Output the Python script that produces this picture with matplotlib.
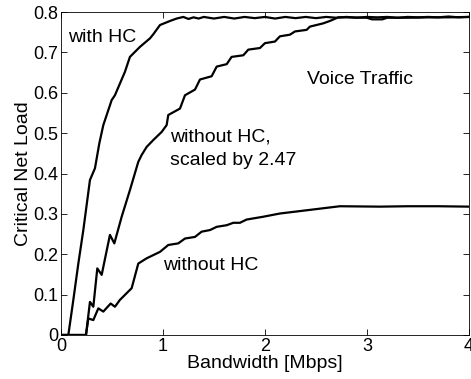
import numpy as np
import matplotlib
matplotlib.use('Agg')
import matplotlib.pyplot as plt

### DATA
### ------------------

# with header compression
x_hc = [0.0, 0.072, 0.121, 0.17, 0.219, 0.284, 0.333, 0.376, 0.415, 0.497, 0.529,
        0.627, 0.676, 0.775, 0.873, 0.905, 0.971, 1.069, 1.134, 1.2, 1.25,
        1.3, 1.35, 1.4, 1.5, 1.6, 1.7, 1.8, 1.9, 2.0, 2.1, 2.2, 2.3, 2.4, 2.5,
        2.6, 2.7, 2.8, 2.9, 3.0, 3.1, 3.2, 3.3, 3.4, 3.5, 3.6, 3.7, 3.8,
        3.9, 4.0]
y_hc = [0.0, 0.0, 0.087, 0.177, 0.26, 0.384, 0.413, 0.475, 0.52, 0.582, 0.594,
        0.652, 0.689, 0.714, 0.735, 0.745, 0.768, 0.778, 0.784, 0.788, 0.783,
        0.787, 0.784, 0.788, 0.784, 0.788, 0.784, 0.788, 0.785, 0.788, 0.784,
        0.788, 0.785, 0.788, 0.785, 0.788, 0.786, 0.788, 0.786, 0.788, 0.787,
        0.788, 0.786, 0.788, 0.787, 0.788, 0.787, 0.789, 0.787, 0.788]

# without header compression, scaled by 2.47
x_scaled = [0.0, 0.245, 0.284, 0.317, 0.356, 0.399, 0.48, 0.523, 0.595, 0.676,
            0.758, 0.791, 0.84, 0.905, 0.987, 1.036, 1.052, 1.167, 1.216, 1.314,
            1.363, 1.477, 1.527, 1.625, 1.673, 1.788, 1.837, 1.951, 2.0, 2.098,
            2.147, 2.245, 2.294, 2.409, 2.441, 2.57, 2.637, 2.719, 2.8, 3.0,
            3.05, 3.15, 3.2, 3.4, 3.6, 3.8, 4.0]
y_scaled = [0.0, 0.0, 0.082, 0.07, 0.165, 0.149, 0.248, 0.227, 0.293, 0.359,
            0.429, 0.446, 0.466, 0.483, 0.503, 0.52, 0.545, 0.561, 0.594, 0.608,
            0.633, 0.641, 0.665, 0.671, 0.689, 0.693, 0.707, 0.711, 0.723, 0.727,
            0.74, 0.744, 0.752, 0.756, 0.764, 0.772, 0.778, 0.787, 0.787, 0.786,
            0.782, 0.782, 0.786, 0.786, 0.787, 0.787, 0.788]

# without header compression
x_nohc = [0.0, 0.245, 0.268, 0.317, 0.366, 0.415, 0.487, 0.529, 0.578, 0.693,
          0.758, 0.84, 0.971, 1.052, 1.15, 1.216, 1.314, 1.379, 1.461, 1.527,
          1.625, 1.69, 1.755, 1.82, 1.983, 2.147, 2.311, 2.474, 2.735, 3.127,
          3.4, 3.7, 4.0]
y_nohc = [0.0, 0.0, 0.041, 0.037, 0.066, 0.058, 0.078, 0.07, 0.087, 0.116,
          0.177, 0.19, 0.206, 0.223, 0.227, 0.239, 0.243, 0.256, 0.26, 0.268,
          0.272, 0.278, 0.278, 0.286, 0.293, 0.301, 0.306, 0.311, 0.319, 0.318,
          0.319, 0.319, 0.318]

x_ticks = [0, 1, 2, 3, 4]
x_ticklabels = ['0', '1', '2', '3', '4']
y_ticks = [0, 0.1, 0.2, 0.3, 0.4, 0.5, 0.6, 0.7, 0.8]
y_ticklabels = ['0', '0.1', '0.2', '0.3', '0.4', '0.5', '0.6', '0.7', '0.8']

### PLOT
### ------------------

plt.rcParams['font.family'] = ['Liberation Sans', 'DejaVu Sans']

fig = plt.figure(figsize=(4.71, 3.79), dpi=100)
ax = fig.add_axes([0.1295, 0.1161, 0.866, 0.852])

for xs, ys in [(x_hc, y_hc), (x_scaled, y_scaled), (x_nohc, y_nohc)]:
    ax.plot(xs, ys, color='black', linewidth=1.6)

ax.set_xlim(0, 4)
ax.set_ylim(0, 0.8)
ax.set_xticks(x_ticks)
ax.set_xticklabels(x_ticklabels)
ax.set_yticks(y_ticks)
ax.set_yticklabels(y_ticklabels)
ax.tick_params(direction='in', top=True, right=True, labelsize=13, length=4,
               width=0.6, pad=2)
for sp in ax.spines.values():
    sp.set_linewidth(0.6)

ax.set_xlabel('Bandwidth [Mbps]', fontsize=14, labelpad=0)
ax.set_ylabel('Critical Net Load', fontsize=14, labelpad=1)

ax.text(0.07, 0.727, 'with HC', fontsize=14, va='baseline')
ax.text(2.41, 0.623, 'Voice Traffic', fontsize=14, va='baseline')
ax.text(1.07, 0.479, 'without HC,', fontsize=14, va='baseline')
ax.text(1.07, 0.421, 'scaled by 2.47', fontsize=14, va='baseline')
ax.text(1.0, 0.161, 'without HC', fontsize=14, va='baseline')

fig.savefig('out.png', dpi=100)
